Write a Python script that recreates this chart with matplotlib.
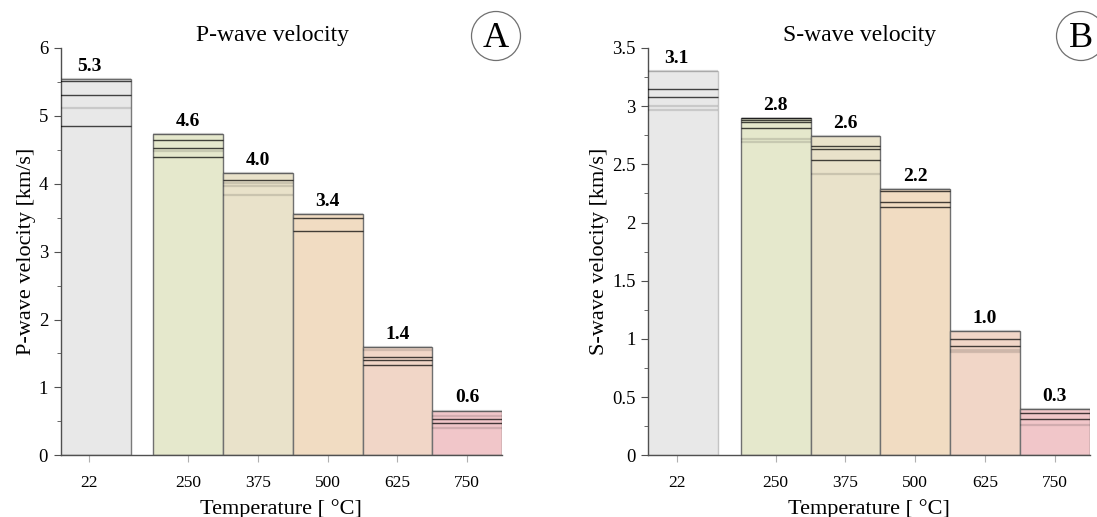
import matplotlib.pyplot as plt
from matplotlib.patches import Circle
from matplotlib.ticker import MultipleLocator

plt.rcParams['font.family'] = ['Liberation Serif', 'DejaVu Serif']

temps = ['22', '250', '375', '500', '625', '750']
colors = ['#e8e8e8', '#e5e8cc', '#e9e2ca', '#f1dcc2', '#f1d6c7', '#f1c6c9']

# P-wave: individual specimen readings (dark = measured, light = repeat)
p_dark = [[5.51, 5.30, 4.85], [4.64, 4.52, 4.39], [4.06],
          [3.50, 3.31], [1.45, 1.40, 1.33], [0.53, 0.47]]
p_light = [[5.54, 5.12], [4.725, 4.48], [4.16, 4.01, 3.96, 3.83],
           [3.55], [1.60, 1.55], [0.66, 0.58, 0.40]]
p_mean = [5.3, 4.6, 4.0, 3.4, 1.4, 0.6]

# S-wave
s_dark = [[3.15, 3.08], [2.90, 2.885, 2.86, 2.81], [2.66, 2.63, 2.54],
          [2.27, 2.18, 2.13], [1.00, 0.94], [0.36, 0.31]]
s_light = [[3.30, 3.00, 2.97], [2.72, 2.69], [2.74, 2.42],
           [2.29], [1.065, 0.905, 0.885], [0.40, 0.26]]
s_mean = [3.1, 2.8, 2.6, 2.2, 1.0, 0.3]

# category positions (22 °C separated by a gap)
xpos = [0, 1.42, 2.42, 3.42, 4.42, 5.42]
widths = [1.2, 1, 1, 1, 1, 1]


def panel(ax, dark, light, means, ymax, major, minor, title, ylabel, edge22):
    for i in range(len(temps)):
        top = max(dark[i] + light[i])
        ec = edge22 if i == 0 else '#707070'
        ax.bar(xpos[i], top, width=widths[i], color=colors[i], edgecolor=ec,
               linewidth=1.0, zorder=2)
        x0 = xpos[i] - widths[i] / 2
        x1 = xpos[i] + widths[i] / 2
        ax.hlines(light[i], x0, x1, colors='black', alpha=0.13, lw=1.6, zorder=3)
        ax.hlines(dark[i], x0, x1, colors='black', alpha=0.72, lw=1.0, zorder=4)
        ax.annotate(f'{means[i]:.1f}', (xpos[i], top), xytext=(0, 3),
                    textcoords='offset points', ha='center', va='bottom',
                    fontsize=14, fontweight='bold')
    ax.set_xlim(-0.41, 5.92)
    ax.set_ylim(0, ymax)
    ax.set_xticks(xpos)
    ax.set_xticklabels(temps)
    ax.yaxis.set_major_locator(MultipleLocator(major))
    ax.yaxis.set_minor_locator(MultipleLocator(minor))
    ax.yaxis.set_major_formatter(lambda v, p: f'{v:g}')
    ax.tick_params(axis='y', which='major', direction='out', length=5,
                   color='#505050', labelsize=13.5, pad=4)
    ax.tick_params(axis='y', which='minor', direction='out', length=3, color='#505050')
    ax.tick_params(axis='x', direction='out', length=5, color='#b0b0b0',
                   labelsize=12.5, pad=9)
    for s in ['top', 'right']:
        ax.spines[s].set_visible(False)
    for s in ['left', 'bottom']:
        ax.spines[s].set_color('#505050')
        ax.spines[s].set_linewidth(1.0)
    ax.set_xlabel('Temperature [ °C]', fontsize=16, labelpad=6)
    ax.set_ylabel(ylabel, fontsize=16, labelpad=2)
    ax.text(0.48, 1.005, title, transform=ax.transAxes, ha='center',
            va='bottom', fontsize=17)
    return ax


fig = plt.figure(figsize=(10.97, 5.17), dpi=100)
ax1 = fig.add_axes([0.0552, 0.1193, 0.4025, 0.788])
ax2 = fig.add_axes([0.5907, 0.1193, 0.4025, 0.788])

panel(ax1, p_dark, p_light, p_mean, 6, 1, 0.5, 'P-wave velocity',
      'P-wave velocity [km/s]', '#7a7a7a')
panel(ax2, s_dark, s_light, s_mean, 3.5, 0.5, 0.25, 'S-wave velocity',
      'S-wave velocity [km/s]', '#c4c4c4')

for cx, letter in [(496, 'A'), (1081, 'B')]:
    fx, fy = cx / 1097, 1 - 36 / 517
    fig.patches.append(Circle((fx * 10.97, fy * 5.17), 24.5 / 100, fill=False,
                              edgecolor='#707070', lw=0.9,
                              transform=fig.dpi_scale_trans))
    fig.text(fx, fy - 0.004, letter, ha='center', va='center', fontsize=26)

fig.savefig('out.png', dpi=100)
